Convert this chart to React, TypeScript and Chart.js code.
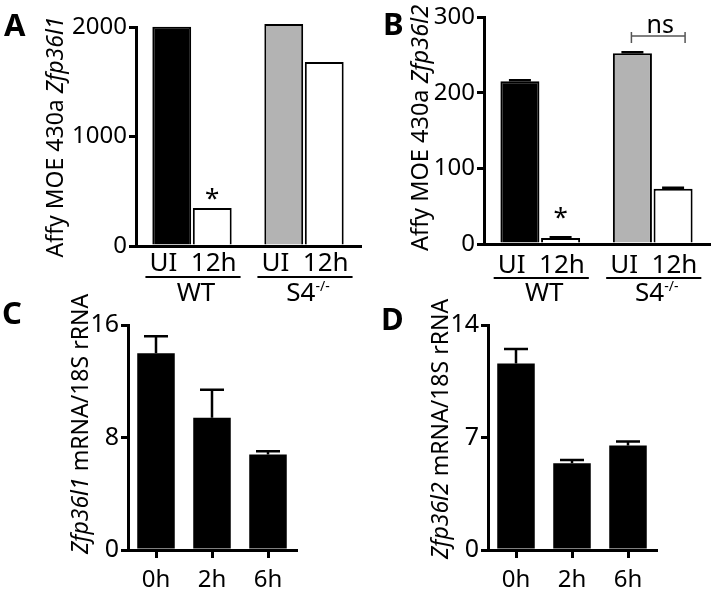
import React, { useEffect, useRef } from "react";
import { Chart, registerables } from "chart.js";

Chart.register(...registerables);

const PAGE_W = 711;
const PAGE_H = 591;
const SANS = "'Noto Sans', 'Open Sans', sans-serif";

// ---------- Panels A / B (microarray) ----------
const genotypes = ["WT", "S4"];
const genotypeSup = ["", "-/-"];
const conditions = ["UI", "12h"];
const zfp36l1UI = [2003, 2027];
const zfp36l1h12 = [347, 1680];
const zfp36l2UI = [215, 252];
const zfp36l2h12 = [8, 73];
const zfp36l2UIErr = [1.5, 1.5];
const zfp36l2h12Err = [1, 1.5];
const yTicksA = [0, 1000, 2000];
const yTicksB = [0, 100, 200, 300];

// ---------- Panels C / D (qPCR time course) ----------
const timepoints = ["0h", "2h", "6h"];
const zfp36l1Time = [14.0, 9.4, 6.8];
const zfp36l1TimeErr = [1.2, 2.0, 0.22];
const zfp36l2Time = [11.6, 5.4, 6.5];
const zfp36l2TimeErr = [0.9, 0.2, 0.25];
const yTicksC = [0, 8, 16];
const yTicksD = [0, 7, 14];

type Area = { l: number; t: number; r: number; b: number };
type Panel = {
  letter: string;
  letterX: number;
  letterY: number;
  kind: "group" | "time";
  area: Area;
  ticks: number[];
  tickFont: number;
  title: [string, boolean][];
  titleX: number;
  titleY: number;
  titleFont: number;
  capW: number;
  ui?: number[];
  h12?: number[];
  uiErr?: number[];
  h12Err?: number[];
  condY?: number;
  lineY?: number;
  groupY?: number;
  starGap?: number;
  ns?: boolean;
  vals?: number[];
  errs?: number[];
};

const panels: Panel[] = [
  {
    letter: "A", letterX: 4, letterY: 36, kind: "group",
    area: { l: 136, t: 27, r: 360, b: 246 },
    ticks: yTicksA, tickFont: 24,
    title: [["Affy MOE 430a ", false], ["Zfp36l1", true]],
    titleX: 63, titleY: 137, titleFont: 23, capW: 22,
    ui: zfp36l1UI, h12: zfp36l1h12,
    condY: 271, lineY: 277, groupY: 301, starGap: 1,
  },
  {
    letter: "B", letterX: 383, letterY: 35, kind: "group",
    area: { l: 484, t: 17, r: 709, b: 244 },
    ticks: yTicksB, tickFont: 24,
    title: [["Affy MOE 430a ", false], ["Zfp36l2", true]],
    titleX: 428, titleY: 128, titleFont: 23.5, capW: 22,
    ui: zfp36l2UI, h12: zfp36l2h12, uiErr: zfp36l2UIErr, h12Err: zfp36l2h12Err,
    condY: 273, lineY: 278, groupY: 301, starGap: 12, ns: true,
  },
  {
    letter: "C", letterX: 2, letterY: 324, kind: "time",
    area: { l: 128, t: 325, r: 296, b: 550 },
    ticks: yTicksC, tickFont: 25,
    title: [["Zfp36l1", true], [" mRNA/18S rRNA", false]],
    titleX: 88, titleY: 424, titleFont: 23, capW: 24,
    vals: zfp36l1Time, errs: zfp36l1TimeErr,
  },
  {
    letter: "D", letterX: 381, letterY: 330, kind: "time",
    area: { l: 488, t: 325, r: 656, b: 550 },
    ticks: yTicksD, tickFont: 25,
    title: [["Zfp36l2", true], [" mRNA/18S rRNA", false]],
    titleX: 448, titleY: 429, titleFont: 23, capW: 24,
    vals: zfp36l2Time, errs: zfp36l2TimeErr,
  },
];

function annotations(p: Panel) {
  return {
    id: "annot" + p.letter,
    afterDatasetsDraw(chart: any) {
      const ctx = chart.ctx as CanvasRenderingContext2D;
      const yScale = chart.scales.y;
      ctx.save();
      chart.data.datasets.forEach((ds: any, i: number) => {
        const errs: number[] | undefined = ds.errors;
        if (!errs) return;
        const meta = chart.getDatasetMeta(i);
        meta.data.forEach((el: any, j: number) => {
          const v = ds.data[j] as number;
          const top = yScale.getPixelForValue(v + errs[j]);
          ctx.strokeStyle = "#000";
          ctx.lineWidth = 2.5;
          ctx.beginPath();
          ctx.moveTo(el.x, el.y);
          ctx.lineTo(el.x, top);
          ctx.moveTo(el.x - p.capW / 2, top);
          ctx.lineTo(el.x + p.capW / 2, top);
          ctx.stroke();
        });
      });
      ctx.restore();
    },
    afterDraw(chart: any) {
      const ctx = chart.ctx as CanvasRenderingContext2D;
      ctx.save();
      ctx.fillStyle = "#000";
      ctx.strokeStyle = "#000";

      ctx.font = `bold 31px ${SANS}`;
      ctx.textAlign = "left";
      ctx.textBaseline = "alphabetic";
      ctx.fillText(p.letter, p.letterX, p.letterY);

      ctx.save();
      ctx.translate(p.titleX, p.titleY);
      ctx.rotate(-Math.PI / 2);
      const fonts = p.title.map(([, it]) => `${it ? "italic " : ""}${p.titleFont}px ${SANS}`);
      const widths = p.title.map(([t], k) => {
        ctx.font = fonts[k];
        return ctx.measureText(t).width;
      });
      const total = widths.reduce((a, b) => a + b, 0);
      let x = -total / 2;
      p.title.forEach(([t], k) => {
        ctx.font = fonts[k];
        ctx.fillText(t, x, 0);
        x += widths[k];
      });
      ctx.restore();

      if (p.kind === "group") {
        const m0 = chart.getDatasetMeta(0);
        const m1 = chart.getDatasetMeta(1);
        genotypes.forEach((g, gi) => {
          const e0 = m0.data[gi];
          const e1 = m1.data[gi];
          const cx = (e0.x + e1.x) / 2 + 1;
          ctx.font = `26px ${SANS}`;
          ctx.textAlign = "center";
          const txt = conditions.join("  ");
          ctx.fillText(txt, cx, p.condY!);
          const w = ctx.measureText(txt).width;
          ctx.lineWidth = 2;
          ctx.beginPath();
          ctx.moveTo(cx - w / 2 - 4, p.lineY!);
          ctx.lineTo(cx + w / 2 + 4, p.lineY!);
          ctx.stroke();
          ctx.textAlign = "left";
          ctx.font = `26px ${SANS}`;
          const wg = ctx.measureText(g).width;
          ctx.font = `14px ${SANS}`;
          const ws = ctx.measureText(genotypeSup[gi]).width;
          const sx = cx + 3 - (wg + ws) / 2;
          ctx.font = `26px ${SANS}`;
          ctx.fillText(g, sx, p.groupY!);
          if (genotypeSup[gi]) {
            ctx.font = `14px ${SANS}`;
            ctx.fillText(genotypeSup[gi], sx + wg, p.groupY! - 10);
          }
        });
        const star = m1.data[0];
        ctx.font = `26px ${SANS}`;
        ctx.textAlign = "center";
        ctx.fillText("*", star.x, star.y - p.starGap!);

        if (p.ns) {
          const a = m0.data[1];
          const b = m1.data[1];
          const x1 = a.x - 1;
          const x2 = b.x + 12;
          const yb = 36;
          ctx.strokeStyle = "#555";
          ctx.lineWidth = 1.5;
          ctx.beginPath();
          ctx.moveTo(x1, yb);
          ctx.lineTo(x2, yb);
          ctx.moveTo(x1, yb - 4);
          ctx.lineTo(x1, yb + 7);
          ctx.moveTo(x2, yb - 4);
          ctx.lineTo(x2, yb + 7);
          ctx.stroke();
          ctx.fillStyle = "#000";
          ctx.font = `25px ${SANS}`;
          ctx.fillText("ns", (x1 + x2) / 2 + 2, 33);
        }
      }
      ctx.restore();
    },
  };
}

function buildChart(canvas: HTMLCanvasElement, p: Panel) {
  const X_H = 44;
  const isGroup = p.kind === "group";
  const datasets: any[] = isGroup
    ? [
        {
          label: conditions[0],
          data: p.ui,
          errors: p.uiErr,
          backgroundColor: ["#000000", "#b3b3b3"],
          borderColor: "#000",
          borderWidth: 2,
          categoryPercentage: 0.723,
          barPercentage: 0.96,
          clip: false,
        },
        {
          label: conditions[1],
          data: p.h12,
          errors: p.h12Err,
          backgroundColor: ["#ffffff", "#ffffff"],
          borderColor: "#000",
          borderWidth: 2,
          categoryPercentage: 0.723,
          barPercentage: 0.96,
          clip: false,
        },
      ]
    : [
        {
          label: "value",
          data: p.vals,
          errors: p.errs,
          backgroundColor: "#000",
          borderColor: "#000",
          borderWidth: 0,
          categoryPercentage: 1,
          barPercentage: 0.67,
          clip: false,
        },
      ];
  const ticks = p.ticks;
  return new Chart(canvas, {
    type: "bar",
    data: { labels: isGroup ? genotypes : timepoints, datasets },
    options: {
      animation: false,
      responsive: false,
      devicePixelRatio: 1,
      events: [],
      layout: {
        padding: {
          left: 0,
          top: p.area.t,
          right: PAGE_W - p.area.r,
          bottom: PAGE_H - p.area.b - X_H,
        },
      },
      plugins: {
        legend: { display: false },
        tooltip: { enabled: false },
        title: { display: false },
      },
      scales: {
        x: {
          type: "category",
          offset: true,
          grid: {
            display: !isGroup,
            drawOnChartArea: false,
            drawTicks: true,
            tickLength: 8,
            lineWidth: 3,
            color: "#000",
            offset: false,
          },
          border: { display: true, width: 3, color: "#000" },
          ticks: {
            display: !isGroup,
            color: "#000",
            font: { family: SANS, size: 24 },
            padding: 8,
            maxRotation: 0,
          },
          afterFit: (s: any) => {
            s.height = X_H;
          },
        },
        y: {
          type: "linear",
          min: ticks[0],
          max: ticks[ticks.length - 1],
          afterBuildTicks: (s: any) => {
            s.ticks = ticks.map((v) => ({ value: v }));
          },
          grid: {
            drawOnChartArea: false,
            drawTicks: true,
            tickLength: 7,
            lineWidth: 3,
            color: "#000",
          },
          border: { display: true, width: 3, color: "#000" },
          ticks: {
            color: "#000",
            font: { family: SANS, size: p.tickFont },
            padding: 2,
            callback: (v: any) => String(v),
          },
          afterFit: (s: any) => {
            s.width = p.area.l;
          },
        },
      },
    } as any,
    plugins: [annotations(p)],
  });
}

function PanelCanvas({ p }: { p: Panel }) {
  const ref = useRef<HTMLCanvasElement | null>(null);
  useEffect(() => {
    if (!ref.current) return;
    const chart = buildChart(ref.current, p);
    return () => chart.destroy();
  }, [p]);
  return (
    <canvas
      ref={ref}
      width={PAGE_W}
      height={PAGE_H}
      style={{ position: "absolute", left: 0, top: 0, width: PAGE_W, height: PAGE_H }}
    />
  );
}

export default function App() {
  return (
    <div
      style={{
        position: "absolute",
        left: 0,
        top: 0,
        width: PAGE_W,
        height: PAGE_H,
        background: "#fff",
        overflow: "hidden",
      }}
    >
      {panels.map((p) => (
        <PanelCanvas key={p.letter} p={p} />
      ))}
    </div>
  );
}
